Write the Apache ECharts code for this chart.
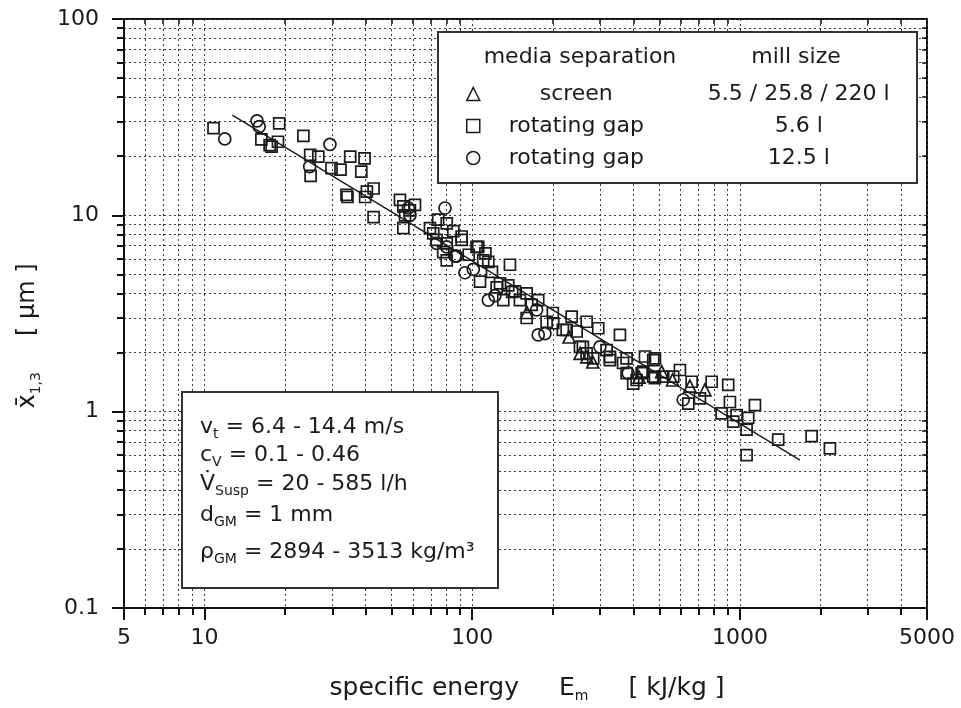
<!DOCTYPE html>
<html>
<head>
<meta charset="utf-8">
<title>Specific energy vs particle size</title>
<script src="https://cdn.jsdelivr.net/npm/echarts@6.0.0/dist/echarts.min.js"></script>
<style>
  html, body { margin: 0; padding: 0; background: #fff; }
  #main { width: 961px; height: 708px; }
</style>
</head>
<body>
<div id="main"></div>
<script>
// axis ticks (log axes)
const xMajor = [5, 10, 100, 1000, 5000];
const xMinor = [6, 7, 8, 9, 20, 30, 40, 50, 60, 70, 80, 90, 200, 300, 400, 500, 600, 700, 800, 900, 2000, 3000, 4000];
const yMajor = [0.1, 1, 10, 100];
const yMinor = [0.2, 0.3, 0.4, 0.5, 0.6, 0.7, 0.8, 0.9, 2, 3, 4, 5, 6, 7, 8, 9, 20, 30, 40, 50, 60, 70, 80, 90];

// legend rows
const seriesNames = ['screen', 'rotating gap 5.6 l', 'rotating gap 12.5 l'];
const separationLabels = ['screen', 'rotating gap', 'rotating gap'];
const millSizes = ['5.5 / 25.8 / 220 l', '5.6 l', '12.5 l'];

// [specific energy kJ/kg, x1,3 µm]
const screenPts = [
  [160, 3.2], [230, 2.4], [253, 1.98], [268, 1.90], [282, 1.79], [420, 1.50],
  [510, 1.6], [560, 1.45], [650, 1.35], [740, 1.29]
];
const gap56Pts = [
  [10.8, 27.8], [19.0, 29.4], [16.3, 24.4], [17.5, 22.8], [17.8, 22.4], [18.8, 23.7], [23.4, 25.4],
  [24.8, 20.3], [26.6, 19.9], [24.9, 15.9], [29.8, 17.4], [32.2, 17.1], [35.0, 19.9], [39.6, 19.5],
  [38.5, 16.7], [33.9, 12.7], [34.2, 12.4], [40.4, 13.2], [42.8, 13.7], [39.8, 12.4], [42.8, 9.8],
  [53.7, 12.0], [55.3, 11.1], [58.5, 10.6], [61.1, 11.3], [56.1, 10.0], [55.3, 8.6],
  [69.5, 8.6], [71.5, 8.1], [74.6, 9.5], [80.3, 9.1], [73.6, 7.5], [80.3, 7.2], [77.9, 6.5], [85, 8.3],
  [91.3, 7.8], [103.8, 6.9], [106.9, 4.6], [109.9, 5.9], [97, 6.3], [112, 6.4],
  [91.3, 7.5], [105.3, 6.9], [80.3, 5.9], [114.8, 5.8], [138.3, 5.6], [123.4, 4.3], [136.3, 4.4],
  [130.6, 3.7], [144.4, 4.1], [159.7, 4.0], [166.7, 3.5], [176.4, 3.7], [150.7, 3.7], [159.7, 3.0],
  [189.6, 2.87], [200.7, 2.82], [225.2, 2.61], [245.5, 2.56], [235.2, 3.05], [267.5, 2.87], [295.6, 2.66],
  [356.3, 2.46], [252.6, 2.14], [317.7, 2.06], [326.8, 1.83], [377.3, 1.87], [377.3, 1.57], [411.3, 1.45],
  [399.4, 1.39], [429.4, 1.57], [474.5, 1.83], [474.5, 1.51], [516.9, 1.51], [563.5, 1.51], [283.1, 1.87],
  [267.5, 1.98], [118.5, 5.15], [127, 4.5], [218, 2.61], [259, 2.14], [327, 1.90], [366, 1.77],
  [200, 3.18], [141, 4.07],
  [441.8, 1.91], [481.4, 1.87], [435.4, 1.60], [481.4, 1.48], [596.9, 1.63], [660.2, 1.42], [784.3, 1.42],
  [904.2, 1.37], [708.9, 1.17], [641.2, 1.10], [917.6, 1.12], [1138, 1.08], [854.2, 0.98], [971.9, 0.96],
  [1074, 0.93], [944.1, 0.89], [1059, 0.81], [1390, 0.72], [1853, 0.75], [2169, 0.65], [1059, 0.60]
];
const gap125Pts = [
  [11.9, 24.5], [15.7, 30.3], [16.0, 28.3], [29.4, 23.0], [24.7, 17.7], [57.7, 10.9], [58.5, 10.0],
  [79.1, 10.9], [73.6, 7.2], [80.3, 6.9], [87.4, 6.2], [100.9, 5.3], [86.2, 6.2], [93.9, 5.1],
  [114.8, 3.7], [121.6, 3.9], [174.0, 3.3], [186.9, 2.5], [176.4, 2.46], [299.9, 2.14], [382.5, 1.57],
  [614.1, 1.15]
];
const fitLine = [[12.7, 32.4], [1676, 0.567]];

const font = 'DejaVu Sans';
const ink = '#1a1a1a';
const gridRect = { left: 124, top: 19, width: 803, height: 589 };
const dotted = { color: '#3a3a3a', width: 1, type: [2, 3] };

function logAxis(gridIndex, min, max, extra) {
  return Object.assign({
    type: 'log', logBase: 10, gridIndex, min, max,
    axisLine: { show: false },
    axisTick: { show: false },
    axisLabel: { show: false },
    splitLine: { show: false },
    minorTick: { show: false },
    minorSplitLine: { show: false }
  }, extra);
}

const tickLabel = v => (v < 1 ? v.toFixed(1) : String(Math.round(v)));

const chart = echarts.init(document.getElementById('main'));

const symbolStyle = { color: 'rgba(0,0,0,0)', borderColor: ink, borderWidth: 1.7, opacity: 1 };

chart.setOption({
  animation: false,
  backgroundColor: '#fff',
  grid: [
    Object.assign({ show: true, borderColor: '#111', borderWidth: 2, outerBoundsMode: 'none' }, gridRect),
    Object.assign({ outerBoundsMode: 'none' }, gridRect),
    Object.assign({ outerBoundsMode: 'none' }, gridRect)
  ],
  xAxis: [
    logAxis(0, 5, 5000, {
      axisLine: { show: true, onZero: false, lineStyle: { color: '#111', width: 2 } },
      axisTick: { show: true, customValues: xMajor, length: 12, lineStyle: { color: '#111', width: 2 } },
      axisLabel: { show: true, customValues: xMajor, formatter: tickLabel, margin: 19,
        fontFamily: font, fontSize: 22, color: ink },
      splitLine: { show: true, lineStyle: dotted }
    }),
    logAxis(1, 5, 5000, {
      axisTick: { show: true, customValues: xMinor, length: 7, lineStyle: { color: '#111', width: 2 } },
      splitLine: { show: true, lineStyle: dotted }
    }),
    logAxis(2, 5, 5000, {
      position: 'top',
      axisTick: { show: true, inside: true, customValues: xMinor, length: 5, lineStyle: { color: '#111', width: 1.5 } }
    })
  ],
  yAxis: [
    logAxis(0, 0.1, 100, {
      axisLine: { show: true, onZero: false, lineStyle: { color: '#111', width: 2 } },
      axisTick: { show: true, customValues: yMajor, length: 12, lineStyle: { color: '#111', width: 2 } },
      axisLabel: { show: true, customValues: yMajor, formatter: tickLabel, margin: 25,
        fontFamily: font, fontSize: 22, color: ink },
      splitLine: { show: true, lineStyle: dotted }
    }),
    logAxis(1, 0.1, 100, {
      axisTick: { show: true, customValues: yMinor, length: 7, lineStyle: { color: '#111', width: 2 } },
      splitLine: { show: true, lineStyle: dotted }
    }),
    logAxis(2, 0.1, 100, {
      position: 'right',
      axisTick: { show: true, inside: true, customValues: yMinor, length: 5, lineStyle: { color: '#111', width: 1.5 } }
    })
  ],
  legend: {
    data: seriesNames,
    orient: 'vertical',
    left: 461,
    top: 78,
    itemWidth: 13,
    itemHeight: 13,
    itemGap: 10,
    z: 10,
    selectedMode: false,
    itemStyle: { color: 'rgba(0,0,0,0)', borderColor: ink, borderWidth: 1.5 },
    formatter: name => {
      const i = seriesNames.indexOf(name);
      return '{a|' + separationLabels[i] + '}{b|' + millSizes[i] + '}';
    },
    textStyle: {
      fontFamily: font, fontSize: 22, color: ink, lineHeight: 20,
      rich: {
        a: { width: 183, align: 'center', fontFamily: font, fontSize: 22, color: ink, lineHeight: 20 },
        b: { width: 262, align: 'center', fontFamily: font, fontSize: 22, color: ink, lineHeight: 20 }
      }
    }
  },
  graphic: [
    { type: 'rect', z: 5, shape: { x: 438, y: 32, width: 479, height: 151 },
      style: { fill: '#fff', stroke: '#333', lineWidth: 2 } },
    { type: 'text', z: 10, x: 580, y: 57,
      style: { text: 'media separation', font: '22px "DejaVu Sans"', fill: ink, align: 'center', verticalAlign: 'middle' } },
    { type: 'text', z: 10, x: 796, y: 57,
      style: { text: 'mill size', font: '22px "DejaVu Sans"', fill: ink, align: 'center', verticalAlign: 'middle' } },

    { type: 'rect', z: 5, shape: { x: 182, y: 392, width: 316, height: 196 },
      style: { fill: '#fff', stroke: '#333', lineWidth: 2 } },
    ...[
      ['{n|v}{s|t}{n| = 6.4 - 14.4 m/s}', 427],
      ['{n|c}{s|V}{n| = 0.1 - 0.46}', 455],
      ['{n|V\u0307}{s|Susp}{n| = 20 - 585 l/h}', 484],
      ['{n|d}{s|GM}{n| = 1 mm}', 515],
      ['{n|\u03c1}{s|GM}{n| = 2894 - 3513 kg/m\u00b3}', 552]
    ].map(([txt, y]) => ({
      type: 'text', z: 10, x: 200, y,
      style: {
        text: txt, align: 'left', verticalAlign: 'middle', fill: ink,
        rich: {
          n: { fontFamily: font, fontSize: 22, lineHeight: 28, color: ink },
          s: { fontFamily: font, fontSize: 14, lineHeight: 14, color: ink, verticalAlign: 'bottom' }
        }
      }
    })),

    // y axis title
    { type: 'text', z: 10, x: 28, y: 336, rotation: Math.PI / 2,
      style: {
        text: '{n|x\u0304}{s|1,3}{g|}{n|[ \u00b5m ]}', align: 'center', verticalAlign: 'middle', fill: ink,
        rich: {
          n: { fontFamily: font, fontSize: 24, lineHeight: 30, color: ink },
          s: { fontFamily: font, fontSize: 14, lineHeight: 14, color: ink, verticalAlign: 'bottom' },
          g: { width: 36 }
        }
      } },
    // x axis title
    { type: 'text', z: 10, x: 527, y: 688,
      style: {
        text: '{n|specific energy}{g|}{n|E}{s|m}{g|}{n|[ kJ/kg ]}', align: 'center', verticalAlign: 'middle', fill: ink,
        rich: {
          n: { fontFamily: font, fontSize: 25, lineHeight: 30, color: ink },
          s: { fontFamily: font, fontSize: 14, lineHeight: 14, color: ink, verticalAlign: 'bottom' },
          g: { width: 40 }
        }
      } }
  ],
  series: [
    { name: seriesNames[0], type: 'scatter', xAxisIndex: 0, yAxisIndex: 0, data: screenPts,
      symbol: 'triangle', symbolSize: 12, itemStyle: symbolStyle, z: 3 },
    { name: seriesNames[1], type: 'scatter', xAxisIndex: 0, yAxisIndex: 0, data: gap56Pts,
      symbol: 'rect', symbolSize: 11, itemStyle: symbolStyle, z: 3 },
    { name: seriesNames[2], type: 'scatter', xAxisIndex: 0, yAxisIndex: 0, data: gap125Pts,
      symbol: 'circle', symbolSize: 12, itemStyle: symbolStyle, z: 3 },
    { name: 'fit', type: 'line', xAxisIndex: 0, yAxisIndex: 0, data: fitLine,
      showSymbol: false, symbol: 'none', silent: true,
      lineStyle: { color: ink, width: 1.4 }, z: 4 }
  ]
});
</script>
</body>
</html>
